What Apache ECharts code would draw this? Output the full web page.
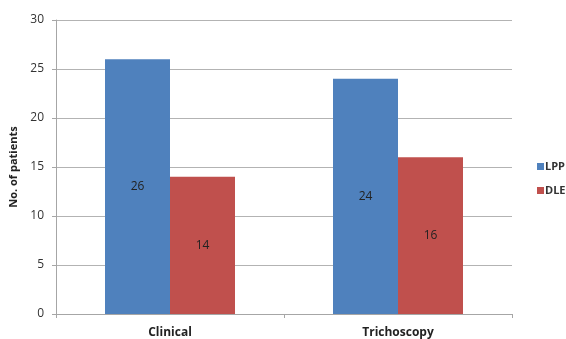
<!DOCTYPE html>
<html>
<head>
<meta charset="utf-8">
<script src="https://cdn.jsdelivr.net/npm/echarts@6/dist/echarts.min.js"></script>
<style>
  html, body { margin: 0; padding: 0; background: #fff; }
  #chart { width: 566px; height: 339px; }
</style>
</head>
<body>
<div id="chart"></div>
<script>
const categories = ['Clinical', 'Trichoscopy']
const lppData = [26, 24]
const dleData = [14, 16]

const myChart = echarts.init(document.getElementById('chart'))
myChart.setOption({
  animation: false,
  textStyle: { fontFamily: 'Open Sans, Arial, sans-serif' },
  legend: {
    orient: 'vertical',
    left: 532,
    top: 156,
    itemWidth: 7,
    itemHeight: 7,
    itemGap: 13,
    icon: 'rect',
    textStyle: { fontSize: 11, fontWeight: 'bold', color: '#333', padding: [0, 0, 0, -4] },
    data: ['LPP', 'DLE']
  },
  grid: {
    left: 55,
    right: 54,
    top: 20,
    bottom: 24
  },
  xAxis: {
    type: 'category',
    data: categories,
    axisLine: { lineStyle: { color: '#a6a6a6' } },
    axisTick: { show: true, length: 4, lineStyle: { color: '#a6a6a6' } },
    axisLabel: { fontSize: 12, fontWeight: 'bold', color: '#222', margin: 13 }
  },
  yAxis: {
    type: 'value',
    min: 0,
    max: 30,
    interval: 5,
    name: 'No. of patients',
    nameLocation: 'middle',
    nameGap: 37,
    nameTextStyle: { fontSize: 11, fontWeight: 'bold', color: '#222' },
    axisLine: { show: true, lineStyle: { color: '#a6a6a6' } },
    axisTick: { show: true, length: 4, lineStyle: { color: '#a6a6a6' } },
    axisLabel: { fontSize: 12, color: '#333', margin: 12 },
    splitLine: { lineStyle: { color: '#b3b3b3' } }
  },
  series: [
    {
      name: 'LPP',
      type: 'bar',
      barWidth: 65,
      barGap: '0%',
      itemStyle: { color: '#4F81BD' },
      label: { show: true, position: 'inside', color: '#222', fontSize: 12 },
      data: lppData
    },
    {
      name: 'DLE',
      type: 'bar',
      barWidth: 65,
      barGap: '0%',
      itemStyle: { color: '#C0504D' },
      label: { show: true, position: 'inside', color: '#222', fontSize: 12 },
      data: dleData
    }
  ]
})
</script>
</body>
</html>
